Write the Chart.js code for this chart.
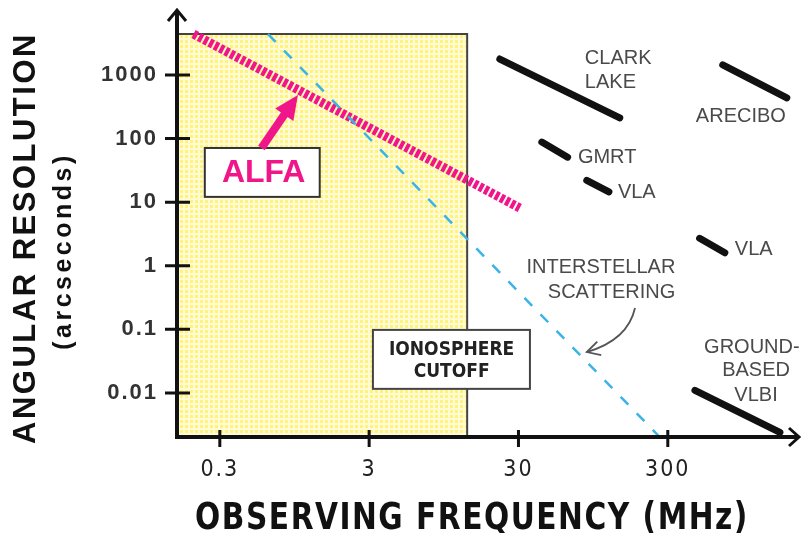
<!DOCTYPE html>
<html>
<head>
<meta charset="utf-8">
<script src="https://cdn.jsdelivr.net/npm/chart.js@4.4.1/dist/chart.umd.min.js"></script>
<style>
  html, body { margin: 0; padding: 0; background: #fff; }
</style>
</head>
<body>
<canvas id="chart" width="804" height="533"></canvas>
<script>
// Axes
const freqTicks = [0.3, 3, 30, 300];
const freqTickLabels = ['0.3', '3', '30', '300'];
const resTicks = [0.01, 0.1, 1, 10, 100, 1000];
const resTickLabels = ['0.01', '0.1', '1', '10', '100', '1000'];
const freqRange = [0.155, 2200];
const resRange = [0.00203, 10500];

// Telescopes (segments from -> to)
const telescopes = ['CLARK LAKE', 'ARECIBO', 'GMRT', 'VLA', 'VLA', 'GROUND-BASED VLBI'];
const telFreqFrom = [22.5, 700, 43, 86, 490, 456];
const telFreqTo = [143, 1880, 64, 121, 723, 1690];
const telResFrom = [1780, 1440, 88, 22, 2.7, 0.011];
const telResTo = [211, 435, 51, 14.5, 1.6, 0.0024];

// ALFA and interstellar scattering
const alfaFreq = [0.2, 30.6];
const alfaRes = [4400, 8.1];
const scatterFreq = [0.63, 265];
const scatterRes = [4400, 0.00203];

// Ionosphere cutoff region
const ionoCutoff = 13.6;
const ionoTop = 4400;

// Annotations (data coordinates)
const labels = [
  { text: 'CLARK', x: 83.5, y: 1784, align: 'left' },
  { text: 'LAKE', x: 83.5, y: 748, align: 'left' },
  { text: 'ARECIBO', x: 926, y: 226, align: 'center' },
  { text: 'GMRT', x: 75, y: 51, align: 'left' },
  { text: 'VLA', x: 139, y: 14, align: 'left' },
  { text: 'VLA', x: 844, y: 1.77, align: 'left' },
  { text: 'INTERSTELLAR', x: 107, y: 0.94, align: 'center' },
  { text: 'SCATTERING', x: 126, y: 0.38, align: 'center' },
  { text: 'GROUND-', x: 1097, y: 0.0519, align: 'center' },
  { text: 'BASED', x: 1170, y: 0.0222, align: 'center' },
  { text: 'VLBI', x: 1170, y: 0.009, align: 'center' }
];
const ionoBox = { x: [3.18, 35.8], y: [0.098, 0.0116], textX: 10.7, textY: [0.0474, 0.0214] };
const alfaBox = { x: [0.238, 1.40], y: [71.1, 12.1], textX: 0.59, textY: 28.5 };
const alfaArrow = { x: [0.57, 1.0], y: [71, 485] };
const scatterArrow = { x: [181, 162, 86], y: [0.217, 0.068, 0.044] };

const tile = document.createElement('canvas');
tile.width = 5; tile.height = 5;
const tc = tile.getContext('2d');
tc.fillStyle = '#fffbd6';
tc.fillRect(0, 0, 5, 5);
tc.fillStyle = '#fff37a';
tc.fillRect(0, 0, 3, 3);

const pink = '#f0168a';

const datasets = telescopes.map((name, i) => ({
  label: name,
  data: [{ x: telFreqFrom[i], y: telResFrom[i] }, { x: telFreqTo[i], y: telResTo[i] }],
  borderColor: '#111',
  borderWidth: 7,
  borderCapStyle: 'round'
}));
datasets.push({
  label: 'Interstellar scattering',
  data: scatterFreq.map((f, i) => ({ x: f, y: scatterRes[i] })),
  borderColor: '#3ab4e6',
  borderWidth: 2.5,
  borderDash: [11, 12]
});
datasets.push({
  label: 'ALFA',
  data: alfaFreq.map((f, i) => ({ x: f, y: alfaRes[i] })),
  borderColor: pink,
  borderWidth: 9,
  borderDash: [4, 2]
});

function arrowHead(ctx, x0, y0, x1, y1, len, half, fill) {
  const a = Math.atan2(y1 - y0, x1 - x0);
  ctx.beginPath();
  ctx.moveTo(x1 - len * Math.cos(a) + half * Math.sin(a), y1 - len * Math.sin(a) - half * Math.cos(a));
  ctx.lineTo(x1, y1);
  ctx.lineTo(x1 - len * Math.cos(a) - half * Math.sin(a), y1 - len * Math.sin(a) + half * Math.cos(a));
  if (fill) { ctx.closePath(); ctx.fill(); } else ctx.stroke();
}

const decor = {
  id: 'decor',
  beforeDraw(chart) {
    // spaced-out tick labels, like the original
    chart.ctx.letterSpacing = '2px';
  },
  beforeDatasetsDraw(chart) {
    const { ctx, chartArea: a, scales: { x, y } } = chart;
    ctx.letterSpacing = '0px';
    const right = x.getPixelForValue(ionoCutoff);
    const top = y.getPixelForValue(ionoTop);
    ctx.save();
    ctx.fillStyle = ctx.createPattern(tile, 'repeat');
    ctx.fillRect(a.left, top, right - a.left, a.bottom - top);
    ctx.strokeStyle = '#444';
    ctx.lineWidth = 2;
    ctx.beginPath();
    ctx.moveTo(a.left, top);
    ctx.lineTo(right, top);
    ctx.lineTo(right, a.bottom);
    ctx.stroke();
    ctx.restore();
  },
  afterDatasetsDraw(chart) {
    const { ctx, scales: { x, y } } = chart;
    const px = v => x.getPixelForValue(v);
    const py = v => y.getPixelForValue(v);
    ctx.save();

    // ionosphere box
    let bx = px(ionoBox.x[0]), by = py(ionoBox.y[0]);
    let bw = px(ionoBox.x[1]) - bx, bh = py(ionoBox.y[1]) - by;
    ctx.fillStyle = '#fff';
    ctx.fillRect(bx, by, bw, bh);
    ctx.strokeStyle = '#444';
    ctx.lineWidth = 2;
    ctx.strokeRect(bx, by, bw, bh);
    ctx.fillStyle = '#222';
    ctx.font = 'bold 19px "DejaVu Sans Condensed", "Liberation Sans"';
    ctx.textAlign = 'center';
    ctx.textBaseline = 'middle';
    ctx.fillText('IONOSPHERE', px(ionoBox.textX), py(ionoBox.textY[0]));
    ctx.fillText('CUTOFF', px(ionoBox.textX), py(ionoBox.textY[1]));

    // ALFA box
    bx = px(alfaBox.x[0]); by = py(alfaBox.y[0]);
    bw = px(alfaBox.x[1]) - bx; bh = py(alfaBox.y[1]) - by;
    ctx.fillStyle = '#fff';
    ctx.fillRect(bx, by, bw, bh);
    ctx.strokeStyle = '#333';
    ctx.strokeRect(bx, by, bw, bh);
    ctx.fillStyle = pink;
    ctx.font = 'bold 32px "Liberation Sans"';
    ctx.fillText('ALFA', px(alfaBox.textX), py(alfaBox.textY));

    // ALFA arrow
    const ax0 = px(alfaArrow.x[0]), ay0 = py(alfaArrow.y[0]);
    const ax1 = px(alfaArrow.x[1]), ay1 = py(alfaArrow.y[1]);
    const ang = Math.atan2(ay1 - ay0, ax1 - ax0);
    ctx.strokeStyle = pink;
    ctx.lineWidth = 8;
    ctx.beginPath();
    ctx.moveTo(ax0, ay0);
    ctx.lineTo(ax1 - 16 * Math.cos(ang), ay1 - 16 * Math.sin(ang));
    ctx.stroke();
    arrowHead(ctx, ax0, ay0, ax1, ay1, 24, 11, true);

    // text labels
    ctx.fillStyle = '#4a4a4a';
    ctx.font = '20px "Liberation Sans"';
    labels.forEach(l => {
      ctx.textAlign = l.align;
      ctx.fillText(l.text, px(l.x), py(l.y));
    });

    // curved arrow to scattering line
    const s = scatterArrow.x.map((v, i) => [px(v), py(scatterArrow.y[i])]);
    ctx.strokeStyle = '#555';
    ctx.lineWidth = 1.8;
    ctx.beginPath();
    ctx.moveTo(s[0][0], s[0][1]);
    ctx.quadraticCurveTo(s[1][0], s[1][1], s[2][0], s[2][1]);
    ctx.stroke();
    arrowHead(ctx, s[1][0], s[1][1], s[2][0], s[2][1], 13, 7, false);
    ctx.restore();
  },
  afterDraw(chart) {
    const { ctx, chartArea: a, scales: { x, y } } = chart;
    ctx.save();
    ctx.strokeStyle = '#111';
    ctx.lineWidth = 4;
    ctx.lineCap = 'butt';
    ctx.beginPath();
    ctx.moveTo(a.left, a.bottom);
    ctx.lineTo(a.left, a.top + 1);
    ctx.moveTo(a.left - 2, a.bottom);
    ctx.lineTo(a.right + 1, a.bottom);
    ctx.stroke();
    ctx.lineWidth = 3;
    ctx.beginPath();
    ctx.moveTo(a.left - 9, a.top + 11);
    ctx.lineTo(a.left, a.top);
    ctx.lineTo(a.left + 9, a.top + 11);
    ctx.moveTo(a.right - 8, a.bottom - 9);
    ctx.lineTo(a.right + 2, a.bottom);
    ctx.lineTo(a.right - 8, a.bottom + 9);
    ctx.stroke();

    // tick marks
    ctx.lineWidth = 3;
    ctx.beginPath();
    resTicks.forEach(v => {
      const p = y.getPixelForValue(v);
      ctx.moveTo(a.left - 12, p);
      ctx.lineTo(a.left + 13, p);
    });
    freqTicks.forEach(v => {
      const p = x.getPixelForValue(v);
      ctx.moveTo(p, a.bottom - 7);
      ctx.lineTo(p, a.bottom + 10);
    });
    ctx.stroke();

    // axis titles
    ctx.fillStyle = '#111';
    ctx.textAlign = 'center';
    ctx.textBaseline = 'middle';
    ctx.save();
    ctx.translate(472, 519);
    ctx.scale(1, 1.15);
    ctx.font = 'bold 33px "DejaVu Sans Condensed", "Liberation Sans"';
    ctx.letterSpacing = '1.5px';
    ctx.fillText('OBSERVING FREQUENCY (MHz)', 0, 0);
    ctx.restore();
    ctx.translate(26, 238);
    ctx.rotate(-Math.PI / 2);
    ctx.font = 'bold 31px "Liberation Sans"';
    ctx.letterSpacing = '2.5px';
    ctx.fillText('ANGULAR RESOLUTION', 0, 0);
    ctx.font = 'bold 25px "Liberation Sans"';
    ctx.letterSpacing = '3.5px';
    ctx.fillText('(arcseconds)', -13, 38);
    ctx.restore();
  }
};

new Chart(document.getElementById('chart'), {
  type: 'scatter',
  data: { datasets },
  options: {
    responsive: false,
    animation: false,
    showLine: true,
    layout: { padding: { top: 10, right: 7, left: 0, bottom: 0 } },
    elements: { point: { radius: 0, hoverRadius: 0 } },
    plugins: { legend: { display: false }, tooltip: { enabled: false } },
    scales: {
      x: {
        type: 'logarithmic',
        min: freqRange[0],
        max: freqRange[1],
        grid: { display: false },
        border: { display: false },
        afterBuildTicks: s => { s.ticks = freqTicks.map(v => ({ value: v })); },
        afterFit: s => { s.height = 96; s.paddingLeft = 0; s.paddingRight = 0; },
        ticks: {
          autoSkip: false,
          maxRotation: 0,
          padding: 11,
          color: '#222',
          font: { family: '"DejaVu Sans Condensed", "Liberation Sans"', size: 23 },
          callback: v => freqTickLabels[freqTicks.indexOf(v)]
        }
      },
      y: {
        type: 'logarithmic',
        min: resRange[0],
        max: resRange[1],
        grid: { display: false },
        border: { display: false },
        afterBuildTicks: s => { s.ticks = resTicks.map(v => ({ value: v })); },
        afterFit: s => { s.width = 177; s.paddingTop = 0; s.paddingBottom = 0; },
        ticks: {
          autoSkip: false,
          padding: 11,
          color: '#333',
          font: { family: '"Liberation Sans"', size: 22, weight: 'bold' },
          callback: v => resTickLabels[resTicks.indexOf(v)]
        }
      }
    }
  },
  plugins: [decor]
});
</script>
</body>
</html>
